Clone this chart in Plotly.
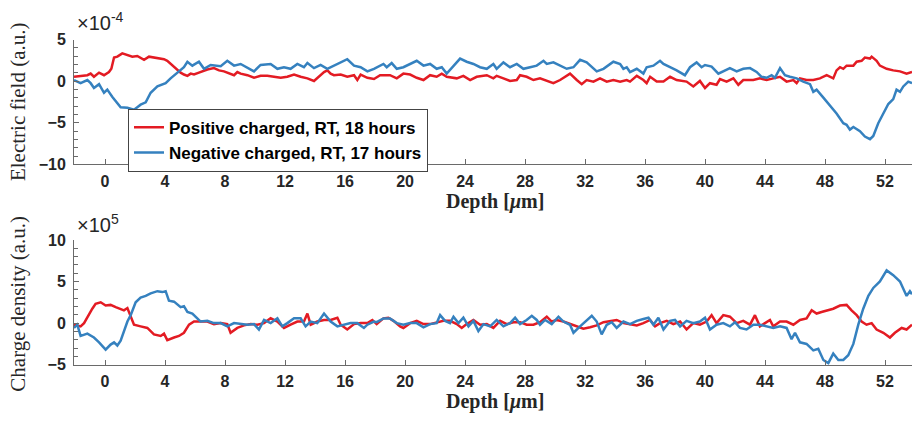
import plotly.graph_objects as go

# ---------------- Electric field (x10^-4) ----------------
ef_pos_x = [-2.07,-1.63,-1.18,-0.96,-0.74,-0.40,-0.07,0.26,0.42,0.60,0.82,1.15,1.49,1.82,2.15,2.37,2.60,2.93,3.26,3.71,3.93,4.15,4.37,4.60,4.82,5.04,5.26,5.49,5.71,5.93,6.26,6.60,6.82,7.26,7.60,7.93,8.26,8.60,8.82,9.04,9.49,9.93,10.37,10.82,11.26,11.71,12.15,12.60,13.04,13.49,13.93,14.15,14.37,14.60,14.82,15.04,15.26,15.71,16.15,16.60,16.82,17.04,17.49,17.93,
            18.34,19.0,19.45,19.89,20.34,20.78,21.23,21.67,22.11,22.45,22.78,23.45,23.89,24.34,24.78,25.45,25.89,26.11,26.56,27.0,27.45,27.67,28.11,28.56,29.0,29.45,29.89,30.34,30.56,31.0,31.45,31.78,32.11,32.56,33.0,33.45,33.89,34.34,34.78,35.0,35.45,35.89,36.11,36.34,36.78,37.23,37.67,38.11,
            38.77,39.22,39.66,40.0,40.33,40.77,41.0,41.44,41.89,42.22,42.55,43.22,43.66,44.11,44.55,45.0,45.44,45.89,46.11,46.33,46.77,47.22,47.66,48.11,48.55,48.77,49.0,49.22,49.44,49.89,50.11,50.44,50.66,51.0,51.11,51.44,51.66,52.11,52.55,53.0,53.44,53.8]
ef_pos_y = [0.54,0.65,0.73,0.92,0.54,1.04,0.73,1.11,1.50,2.85,2.96,3.35,3.12,2.96,3.04,2.85,2.58,2.96,2.85,2.65,2.65,2.46,2.08,1.69,1.31,1.04,0.81,0.65,0.92,0.81,1.04,1.31,1.42,1.58,1.31,1.19,0.92,0.73,1.11,0.92,0.73,0.42,0.65,0.65,0.54,0.42,0.54,0.81,0.54,0.35,0.04,0.42,0.81,1.11,1.31,0.92,0.73,0.81,0.54,0.73,0.15,0.81,0.42,0.27,
            0.73,0.73,0.35,0.92,0.81,0.42,0.15,0.73,0.54,0.92,0.54,0.35,0.65,0.15,0.54,0.73,0.35,0.65,0.35,0.04,0.15,0.73,0.54,0.15,0.35,0.04,-0.23,0.15,0.42,0.92,0.15,-0.35,0.15,-0.04,0.35,-0.04,0.15,-0.04,0.15,-0.04,0.65,0.15,-0.23,0.54,-0.04,-0.04,0.54,0.15,
            -0.04,-0.62,0.04,-0.81,-0.23,-0.42,0.27,-0.04,0.35,-0.42,0.15,0.15,0.35,0.15,0.35,0.54,-0.04,0.15,-0.23,0.35,0.15,0.15,0.35,0.73,0.35,1.31,1.69,1.50,1.88,1.88,2.35,2.46,2.85,2.73,2.96,2.46,1.88,1.50,1.31,1.19,0.92,1.12]

ef_neg_x = [-2.07,-1.63,-1.18,-0.96,-0.74,-0.40,-0.07,0.15,0.49,0.71,1.04,1.49,1.71,1.93,2.15,2.37,2.71,3.04,3.49,4.04,4.37,4.93,5.26,5.49,5.82,6.26,6.60,7.04,7.71,8.15,8.60,9.04,9.49,9.93,10.37,11.04,11.49,11.93,12.37,12.82,13.26,13.49,13.93,14.37,14.82,15.26,15.71,16.15,16.60,17.04,17.49,17.93,
            18.56,18.78,19.11,19.45,19.89,20.34,20.78,21.23,21.67,22.11,22.45,22.78,23.23,23.67,24.11,24.56,25.0,25.45,25.89,26.11,26.56,27.0,27.45,27.89,28.34,28.78,29.23,29.45,29.89,30.34,30.78,31.23,31.67,32.11,32.56,32.78,33.23,33.89,34.34,34.56,34.78,35.0,35.45,35.89,36.11,36.56,37.0,37.23,37.67,38.11,
            38.66,39.0,39.44,39.77,40.0,40.44,40.89,41.33,41.66,42.11,42.55,43.0,43.44,43.77,44.11,44.44,44.66,45.0,45.33,45.66,46.11,46.55,47.0,47.22,47.44,47.89,48.33,48.77,49.22,49.44,49.66,49.89,50.33,50.66,51.0,51.22,51.55,51.89,52.22,52.55,52.77,53.0,53.22,53.55,53.8]
ef_neg_y = [0.15,-0.23,0.15,-0.23,-0.81,-0.35,-1.38,-1.0,-1.88,-2.35,-3.12,-3.19,-3.31,-3.42,-3.12,-2.81,-2.54,-1.38,-0.62,-0.23,0.35,1.19,1.69,2.35,1.88,2.35,1.50,1.96,1.81,2.46,1.88,2.08,1.58,1.19,1.96,2.08,1.50,1.69,1.50,2.08,1.69,2.19,1.58,1.96,1.50,1.88,2.27,2.65,1.88,1.69,1.19,1.50,
            2.08,1.69,2.19,1.50,1.69,2.08,2.46,1.88,2.08,1.50,1.69,0.92,1.88,2.73,2.35,2.08,1.69,1.50,2.08,1.50,2.27,1.69,2.08,1.50,1.69,1.88,2.46,2.08,2.27,1.88,1.50,1.69,2.58,2.27,1.50,1.19,1.50,2.35,2.08,1.50,1.69,1.11,1.50,0.92,1.69,1.88,2.46,2.08,1.69,1.31,
            0.73,1.69,2.27,1.69,1.96,1.77,0.92,1.31,1.58,1.19,1.50,1.58,1.12,0.54,0.42,0.73,0.42,1.58,0.73,0.54,0.35,-0.04,-0.35,-1.27,-1.0,-1.96,-2.92,-3.88,-5.04,-5.23,-5.81,-5.50,-6.0,-6.65,-6.96,-6.58,-5.04,-3.88,-2.73,-2.15,-1.0,-1.27,-0.62,-0.04,-0.23]

# ---------------- Charge density (x10^5) ----------------
cd_pos_x = [-2.07,-1.63,-1.40,-1.18,-0.85,-0.63,-0.29,0.04,0.37,0.71,1.04,1.26,1.49,1.71,1.93,2.37,2.82,3.26,3.71,3.93,4.15,4.60,4.93,5.26,5.60,5.93,6.37,6.82,7.26,7.71,8.15,8.37,8.82,9.26,9.71,10.15,10.60,11.04,11.49,11.93,12.37,12.82,13.26,13.49,13.71,14.15,14.60,15.04,15.49,15.71,16.15,16.60,17.04,17.49,17.82,
            18.11,18.56,18.89,19.23,19.67,19.89,20.34,20.78,21.23,21.67,22.11,22.56,23.0,23.45,23.78,24.11,24.56,25.0,25.45,25.89,26.34,26.78,27.23,27.67,28.11,28.56,29.0,29.45,29.78,30.11,30.56,31.0,31.45,31.89,32.34,32.78,33.23,33.67,34.11,34.56,35.0,35.45,35.89,36.34,36.67,37.0,37.45,37.89,38.34,
            38.77,39.22,39.66,40.11,40.44,40.77,41.22,41.66,42.11,42.55,43.0,43.33,43.66,44.0,44.33,44.55,45.0,45.44,45.89,46.33,46.77,47.11,47.44,47.77,48.11,48.55,49.0,49.44,49.77,50.11,50.44,50.77,51.11,51.44,51.89,52.33,52.66,53.11,53.44,53.8]
cd_pos_y = [-0.18,-0.38,0.01,0.78,1.74,2.32,2.51,2.12,2.20,1.93,1.74,1.55,1.82,0.78,-0.18,-0.38,-0.57,-1.34,-1.53,-1.26,-2.03,-1.72,-1.53,-1.15,-0.18,0.20,0.20,0.20,-0.11,0.01,-0.11,-1.15,-0.57,-0.26,-0.11,-0.18,0.01,0.59,0.20,-0.57,-0.18,0.20,0.20,1.16,-0.18,0.20,0.39,0.39,0.66,-0.18,-0.76,-0.11,0.01,0.01,0.39,
            -0.11,0.58,0.66,0.28,-0.38,-0.57,0.01,0.28,-0.11,-0.11,0.12,0.28,0.28,-0.11,-0.57,-0.11,0.39,-0.19,-0.11,-0.57,0.28,-0.11,0.12,0.12,-0.19,-0.19,0.12,0.78,0.20,0.39,0.20,-0.11,-0.38,-0.65,-0.49,-0.26,0.12,0.28,0.39,0.01,-0.11,-0.26,0.01,0.39,-0.38,0.01,0.28,-0.11,0.20,
            -0.76,0.01,-0.18,0.20,0.97,0.01,0.97,0.78,0.01,0.28,-0.18,0.97,-0.38,0.01,0.39,-0.38,0.20,0.20,-0.18,0.39,0.58,1.55,1.16,1.35,1.55,1.74,2.12,2.20,1.55,0.97,0.20,-0.18,0.01,-0.76,-1.15,-1.72,-1.15,-0.57,-0.76,-0.18]

cd_neg_x = [-2.07,-1.85,-1.63,-1.18,-0.74,-0.40,0.04,0.37,0.60,0.82,1.04,1.26,1.49,1.71,2.04,2.37,2.71,3.04,3.49,3.82,4.04,4.26,4.60,5.04,5.26,5.49,5.82,6.15,6.37,6.82,7.26,7.71,8.15,8.60,9.04,9.49,9.93,10.26,10.60,11.04,11.49,11.82,12.15,12.60,13.04,13.37,13.71,14.15,14.60,15.04,15.49,15.93,16.37,16.82,17.26,17.49,17.93,
            18.11,18.56,19.0,19.45,19.89,20.34,20.78,21.23,21.67,22.11,22.34,22.67,23.0,23.23,23.56,23.89,24.23,24.56,24.89,25.23,25.67,26.11,26.56,27.0,27.34,27.67,28.11,28.45,28.78,29.0,29.34,29.78,30.23,30.56,31.0,31.23,31.67,32.11,32.45,32.78,33.11,33.45,33.78,34.11,34.56,35.0,35.45,35.89,36.23,36.56,36.89,37.23,37.67,38.0,38.34,
            38.77,39.22,39.66,40.0,40.33,40.77,41.22,41.66,42.0,42.33,42.77,43.22,43.66,44.11,44.55,45.0,45.44,45.77,46.0,46.33,46.77,47.22,47.55,47.89,48.22,48.55,48.89,49.22,49.55,49.89,50.22,50.55,50.89,51.22,51.66,52.11,52.55,53.0,53.44,53.66,53.8]
cd_neg_y = [-0.57,-0.18,-1.53,-1.26,-1.72,-2.30,-3.18,-2.57,-2.30,-2.68,-2.11,-0.95,0.20,0.97,2.51,3.08,3.28,3.58,3.85,3.74,3.85,2.70,2.59,1.93,2.05,1.35,1.16,0.59,0.20,0.28,0.01,0.01,-0.38,0.01,-0.11,-0.18,-0.11,-0.76,0.39,0.01,0.59,-0.38,0.01,0.59,0.59,-0.38,0.20,0.01,1.16,0.20,-0.38,-0.18,0.01,0.01,-0.57,-0.18,0.20,
            0.12,0.58,0.58,0.01,-0.19,0.01,0.01,-0.49,-0.11,0.01,0.97,0.28,0.01,0.78,0.01,0.66,-0.38,0.28,-0.95,-0.11,-0.38,0.39,-0.38,0.01,0.66,-0.11,0.39,0.89,0.39,-0.19,0.39,-0.11,0.78,0.20,-0.19,-1.15,-0.38,0.28,0.89,0.20,-1.34,-0.19,0.12,-0.57,0.20,-0.11,0.28,0.51,0.66,-0.19,0.66,-0.76,0.28,0.39,-0.38,
            0.28,0.01,0.20,0.66,-0.76,-0.18,0.01,-0.38,0.12,-0.57,-0.76,-0.18,-0.18,-0.38,-0.57,-0.38,-0.57,-1.92,-1.15,-2.30,-2.49,-3.26,-3.07,-4.42,-4.80,-3.65,-4.42,-4.42,-3.84,-2.49,-0.18,1.74,3.28,4.24,5.01,6.35,5.78,5.01,3.28,3.85,3.47]

x_ticks = [0, 4, 8, 12, 16, 20, 24, 28, 32, 36, 40, 44, 48, 52]
top_yticks = [-10, -5, 0, 5]
bot_yticks = [-5, 0, 5, 10]
names = ["Positive charged, RT, 18 hours", "Negative charged, RT, 17 hours"]

RED = "#e31b23"
BLUE = "#3581bf"
W = 912
H = 424

fig = go.Figure()
fig.add_trace(go.Scatter(x=ef_pos_x, y=ef_pos_y, mode="lines", name=names[0],
                         line=dict(color=RED, width=2.5), xaxis="x", yaxis="y"))
fig.add_trace(go.Scatter(x=ef_neg_x, y=ef_neg_y, mode="lines", name=names[1],
                         line=dict(color=BLUE, width=2.5), xaxis="x", yaxis="y"))
fig.add_trace(go.Scatter(x=cd_pos_x, y=cd_pos_y, mode="lines", showlegend=False,
                         line=dict(color=RED, width=2.5), xaxis="x2", yaxis="y2"))
fig.add_trace(go.Scatter(x=cd_neg_x, y=cd_neg_y, mode="lines", showlegend=False,
                         line=dict(color=BLUE, width=2.5), xaxis="x2", yaxis="y2"))

AX = "#6a6a6a"
TXT = "#262626"
tickfont = dict(family="Liberation Sans", size=16, color=TXT, weight="bold")
x0 = 74 / W

def yfrac(px):
    return 1 - px / H

xcommon = dict(range=[-2.07, 53.8], tickvals=x_ticks, ticks="inside", ticklen=5,
               tickcolor=AX, showline=True, linecolor=AX, linewidth=1,
               showgrid=False, zeroline=False, tickfont=tickfont,
               ticklabelstandoff=2, domain=[x0, 1.0])
ycommon = dict(ticks="inside", ticklen=5, tickcolor=AX, showline=True, linecolor=AX,
               linewidth=1, showgrid=False, zeroline=False, tickfont=tickfont,
               ticklabelstandoff=4,
               minor=dict(dtick=1, ticks="inside", ticklen=4, tickcolor=AX))

fig.update_layout(
    width=W, height=H,
    margin=dict(l=0, r=0, t=0, b=0),
    paper_bgcolor="white", plot_bgcolor="white",
    xaxis=dict(anchor="y", **xcommon),
    xaxis2=dict(anchor="y2", **xcommon),
    yaxis=dict(anchor="x", range=[-10, 5], tickvals=top_yticks,
               domain=[yfrac(163), yfrac(33)], **ycommon),
    yaxis2=dict(anchor="x2", range=[-5, 10], tickvals=bot_yticks,
                domain=[yfrac(371.7), yfrac(241.7)], **ycommon),
    legend=dict(x=128 / W, y=yfrac(105), xanchor="left", yanchor="top",
                bgcolor="white", bordercolor="#444", borderwidth=1,
                font=dict(family="Liberation Sans", size=17, color="black", weight="bold"),
                tracegroupgap=0, itemwidth=30),
    showlegend=True,
)

serif = dict(family="Liberation Serif", size=21, color=TXT)
ann = [
    dict(text="×10<sup>-4</sup>", x=75 / W, y=yfrac(29), xanchor="left", yanchor="bottom",
         font=dict(family="Liberation Sans", size=20, color=TXT)),
    dict(text="×10<sup>5</sup>", x=75 / W, y=yfrac(240), xanchor="left", yanchor="bottom",
         font=dict(family="Liberation Sans", size=20, color=TXT)),
    dict(text="Electric field (a.u.)", x=18 / W, y=yfrac(98), textangle=-90,
         xanchor="center", yanchor="middle", font=serif),
    dict(text="Charge density (a.u.)", x=18 / W, y=yfrac(308), textangle=-90,
         xanchor="center", yanchor="middle", font=serif),
    dict(text="Depth [<i>μ</i>m]", x=495 / W, y=yfrac(202), xanchor="center", yanchor="middle",
         font=dict(family="Liberation Serif", size=20, color=TXT, weight="bold")),
    dict(text="Depth [<i>μ</i>m]", x=495 / W, y=yfrac(410), xanchor="center", yanchor="middle",
         font=dict(family="Liberation Serif", size=20, color=TXT, weight="bold")),
]
for a in ann:
    a.update(xref="paper", yref="paper", showarrow=False)
fig.update_layout(annotations=ann)

fig.write_html("out.html")
